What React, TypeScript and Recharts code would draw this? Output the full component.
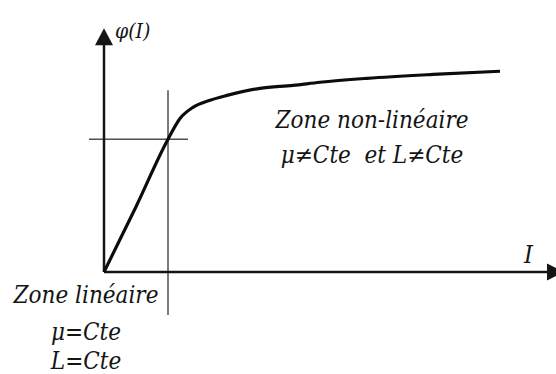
import React from "react";
import { LineChart, Line, XAxis, YAxis, ReferenceLine, ReferenceDot } from "recharts";

// Magnetisation curve φ(I): current I and flux φ (arbitrary units)
const currentI = [0, 0.64, 1.28, 1.52, 1.78, 2.12, 2.46, 3.12, 3.78, 4.32, 5.26, 6.58, 7.92];
const fluxPhi = [0, 2.68, 5.45, 6.3, 6.76, 7.05, 7.25, 7.54, 7.66, 7.79, 7.95, 8.11, 8.24];

// Knee of the curve: end of the linear zone
const kneeI = 1.28;
const kneePhi = 5.45;

// Axis extents
const axisMaxI = 9;
const axisMaxPhi = 10;

const data = currentI.map((I, i) => ({ I, phi: fluxPhi[i] }));

const INK = "#141414";
const FONT = "'DejaVu Serif Condensed', 'DejaVu Serif', serif";

type Pt = { cx?: number; cy?: number };

const arrowUp = (p: Pt) => {
  const { cx = 0, cy = 0 } = p;
  return <polygon points={`${cx},${cy} ${cx - 9},${cy + 17} ${cx + 9},${cy + 17}`} fill={INK} />;
};

const arrowRight = (p: Pt) => {
  const { cx = 0, cy = 0 } = p;
  return <polygon points={`${cx + 10},${cy} ${cx - 7},${cy - 8.5} ${cx - 7},${cy + 8.5}`} fill={INK} />;
};

const textShape =
  (lines: string[], lineGaps: number[], size: number, anchor: "start" | "middle" = "middle") =>
  (p: Pt) => {
    const { cx = 0, cy = 0 } = p;
    let y = cy;
    return (
      <g>
        {lines.map((t, i) => {
          if (i > 0) y += lineGaps[i - 1];
          return (
            <text
              key={i}
              x={cx}
              y={y}
              textAnchor={anchor}
              fontFamily={FONT}
              fontStyle="italic"
              fontSize={size}
              style={{ whiteSpace: "pre" }}
              fill={INK}
            >
              {t}
            </text>
          );
        })}
      </g>
    );
  };

export default function App() {
  return (
    <div style={{ position: "absolute", left: 0, top: 0, background: "#fff" }}>
      <LineChart width={556} height={374} data={data} margin={{ top: 4, right: 2, bottom: 4.5, left: 4 }}>
        <XAxis dataKey="I" type="number" domain={[-2, 9]} allowDataOverflow hide />
        <YAxis type="number" domain={[-4, 11]} allowDataOverflow hide />

        {/* guide lines through the knee */}
        <ReferenceLine
          segment={[{ x: kneeI, y: 7.46 }, { x: kneeI, y: -1.76 }]}
          stroke="#505050"
          strokeWidth={1.5}
          ifOverflow="visible"
        />
        <ReferenceLine
          segment={[{ x: -0.3, y: kneePhi }, { x: 1.68, y: kneePhi }]}
          stroke="#505050"
          strokeWidth={1.5}
          ifOverflow="visible"
        />

        {/* axes */}
        <ReferenceLine
          segment={[{ x: 0, y: 0 }, { x: axisMaxI, y: 0 }]}
          stroke={INK}
          strokeWidth={2.5}
          ifOverflow="visible"
        />
        <ReferenceLine
          segment={[{ x: 0, y: 0 }, { x: 0, y: axisMaxPhi - 0.5 }]}
          stroke={INK}
          strokeWidth={2.5}
          ifOverflow="visible"
        />
        <ReferenceDot x={0} y={axisMaxPhi} r={0} shape={arrowUp} ifOverflow="visible" />
        <ReferenceDot x={axisMaxI} y={0} r={0} shape={arrowRight} ifOverflow="visible" />

        <Line
          type="monotone"
          dataKey="phi"
          stroke="#0c0c0c"
          strokeWidth={3.2}
          dot={false}
          isAnimationActive={false}
        />

        {/* annotations */}
        <ReferenceDot x={0.22} y={9.6} r={0} shape={textShape(["φ(I)"], [], 21, "start")} ifOverflow="visible" />
        <ReferenceDot x={8.4} y={0.37} r={0} shape={textShape(["I"], [], 25, "start")} ifOverflow="visible" />
        <ReferenceDot
          x={5.36}
          y={5.9}
          r={0}
          shape={textShape(["Zone non-linéaire", "μ≠Cte  et L≠Cte"], [35], 24)}
          ifOverflow="visible"
        />
        <ReferenceDot
          x={-0.36}
          y={-1.27}
          r={0}
          shape={textShape(["Zone linéaire", "μ=Cte", "L=Cte"], [37, 29], 24)}
          ifOverflow="visible"
        />
      </LineChart>
    </div>
  );
}
